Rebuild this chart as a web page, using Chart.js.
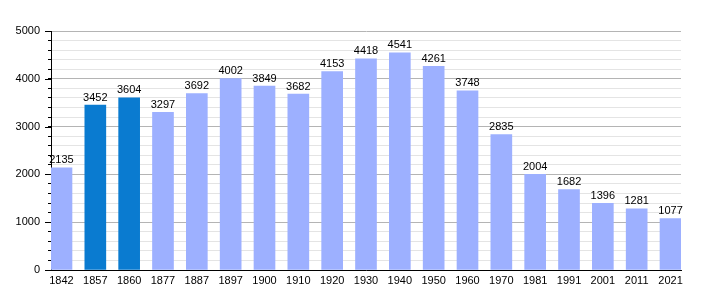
<!DOCTYPE html>
<html>
<head>
<meta charset="utf-8">
<script src="https://cdn.jsdelivr.net/npm/chart.js@4"></script>
<style>
  body { margin: 0; background: #fff; }
  #wrap { width: 710px; height: 300px; }
</style>
</head>
<body>
<div id="wrap"><canvas id="popChart" width="710" height="300"></canvas></div>
<script>
// Population by census year
const years = ['1842', '1857', '1860', '1877', '1887', '1897', '1900', '1910', '1920', '1930',
               '1940', '1950', '1960', '1970', '1981', '1991', '2001', '2011', '2021'];
const population = [2135, 3452, 3604, 3297, 3692, 4002, 3849, 3682, 4153, 4418,
                    4541, 4261, 3748, 2835, 2004, 1682, 1396, 1281, 1077];
const highlighted = ['1857', '1860'];
const yTicks = [0, 1000, 2000, 3000, 4000, 5000];

const lightBar = '#9db0ff';
const darkBar = '#0a7bd0';

// Value labels drawn above each bar
const valueLabels = {
    id: 'valueLabels',
    afterDatasetsDraw(chart) {
        const { ctx } = chart;
        const meta = chart.getDatasetMeta(0);
        ctx.save();
        ctx.font = '11px "Liberation Sans", Arial, sans-serif';
        ctx.fillStyle = '#000';
        ctx.textAlign = 'center';
        ctx.textBaseline = 'bottom';
        meta.data.forEach((bar, i) => {
            ctx.fillText(String(population[i]), bar.x, bar.y - 2);
        });
        ctx.restore();
    }
};

// longer tick marks at the labelled values
const majorTicks = {
    id: 'majorTicks',
    afterDraw(chart) {
        const { ctx } = chart;
        const y = chart.scales.y;
        ctx.save();
        ctx.strokeStyle = '#000';
        ctx.lineWidth = 1;
        yTicks.forEach(v => {
            const py = Math.round(y.getPixelForValue(v)) + 0.5;
            ctx.beginPath();
            ctx.moveTo(y.right - 6, py);
            ctx.lineTo(y.right, py);
            ctx.stroke();
        });
        ctx.restore();
    }
};

const ctx = document.getElementById('popChart').getContext('2d');

new Chart(ctx, {
    type: 'bar',
    data: {
        datasets: [{
            data: population.map((v, i) => ({ x: i, y: v })),
            backgroundColor: years.map(y => highlighted.includes(y) ? darkBar : lightBar),
            barThickness: 21,
            borderWidth: 0
        }]
    },
    options: {
        responsive: false,
        animation: false,
        layout: { padding: { top: 31, right: 29, left: 0, bottom: 0 } },
        plugins: {
            legend: { display: false },
            tooltip: { enabled: false }
        },
        scales: {
            x: {
                type: 'linear',
                offset: false,
                min: -0.31,
                max: years.length - 1 + 0.31,
                grid: { display: false, drawTicks: false },
                border: { color: '#000', width: 1 },
                afterBuildTicks: (scale) => {
                    scale.ticks = years.map((y, i) => ({ value: i }));
                },
                afterFit: (scale) => { scale.height = 30; },
                ticks: {
                    autoSkip: false,
                    maxRotation: 0,
                    padding: 4,
                    color: '#000',
                    font: { family: '"Liberation Sans", Arial, sans-serif', size: 11 },
                    callback: (v) => years[v]
                }
            },
            y: {
                min: 0,
                max: 5000,
                border: { color: '#000', width: 1 },
                grid: {
                    color: (c) => (c.tick && c.tick.value % 1000 === 0) ? '#b4b4b4' : '#e4e4e4',
                    tickColor: '#000',
                    tickLength: 3,
                    lineWidth: 1
                },
                afterFit: (scale) => { scale.width = 51; },
                ticks: {
                    stepSize: 200,
                    autoSkip: false,
                    padding: 8,
                    color: '#000',
                    font: { family: '"Liberation Sans", Arial, sans-serif', size: 11 },
                    callback: (v) => yTicks.includes(v) ? String(v) : ''
                }
            }
        }
    },
    plugins: [valueLabels, majorTicks]
});
</script>
</body>
</html>
